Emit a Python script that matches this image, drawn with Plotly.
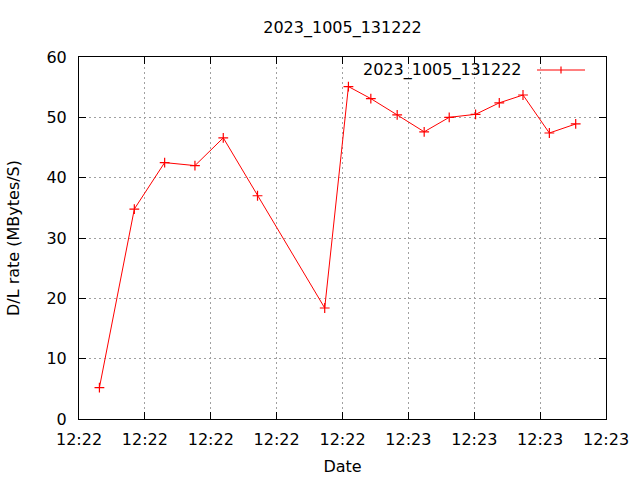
import plotly.graph_objects as go

series_name = "2023_1005_131222"
times = [
    "2023-10-05 12:22:13.1", "2023-10-05 12:22:18.4", "2023-10-05 12:22:23.0",
    "2023-10-05 12:22:27.6", "2023-10-05 12:22:31.9", "2023-10-05 12:22:37.1",
    "2023-10-05 12:22:47.3", "2023-10-05 12:22:50.9", "2023-10-05 12:22:54.3",
    "2023-10-05 12:22:58.3", "2023-10-05 12:23:02.4", "2023-10-05 12:23:06.2",
    "2023-10-05 12:23:10.2", "2023-10-05 12:23:13.8", "2023-10-05 12:23:17.4",
    "2023-10-05 12:23:21.4", "2023-10-05 12:23:25.4",
]
rates = [5.2, 34.8, 42.5, 42.0, 46.6, 37.0, 18.4, 55.1, 53.1, 50.4,
         47.6, 50.0, 50.5, 52.4, 53.7, 47.4, 48.9]
x_range = ["2023-10-05 12:22:10", "2023-10-05 12:23:30"]
y_range = [0, 60]

FONT = "DejaVu Sans"
RED = "#ff0000"

fig = go.Figure()
fig.add_trace(go.Scatter(
    x=times, y=rates, mode="lines+markers", name=series_name,
    line=dict(color=RED, width=1),
    marker=dict(symbol="cross-thin", size=7, line=dict(color=RED, width=1.2), color=RED),
    showlegend=False, hoverinfo="skip",
))

# gnuplot-style key: text then sample line with marker
L, R, T, B = 79, 34, 57, 61
W, H = 640 - L - R, 480 - T - B
def px(x):
    return (x - L) / W
def py(y):
    return (480 - B - y) / H

fig.add_annotation(x=px(524), y=py(70), xref="paper", yref="paper",
                   text=series_name, showarrow=False, xanchor="right", yanchor="middle",
                   font=dict(family=FONT, size=16, color="#000"))
fig.add_shape(type="line", xref="paper", yref="paper",
              x0=px(537), x1=px(585), y0=py(70), y1=py(70),
              line=dict(color=RED, width=1))
fig.add_shape(type="line", xref="paper", yref="paper",
              x0=px(561), x1=px(561), y0=py(66.5), y1=py(73.5),
              line=dict(color=RED, width=1.2))

axis_common = dict(
    showline=True, linecolor="#000", linewidth=1, mirror="ticks",
    ticks="inside", ticklen=7, tickcolor="#000", tickwidth=1,
    showgrid=True, gridcolor="#a0a0a0", gridwidth=1, griddash="2px,3px",
    zeroline=False, automargin=False,
    tickfont=dict(family=FONT, size=16, color="#000"),
    title_font=dict(family=FONT, size=16, color="#000"),
)

fig.update_layout(
    width=640, height=480,
    margin=dict(l=L, r=R, t=T, b=B, autoexpand=False),
    paper_bgcolor="#fff", plot_bgcolor="#fff",
    font=dict(family=FONT, size=16, color="#000"),
    title=dict(text=series_name, x=(L + W / 2) / 640, xanchor="center",
               y=1 - 27 / 480, yanchor="middle", automargin=False,
               font=dict(family=FONT, size=16, color="#000")),
    xaxis=dict(type="date", range=x_range, tick0=x_range[0], dtick=10000,
               tickformat="%H:%M", ticklabelstandoff=6,
               title=dict(text="Date", standoff=12), **axis_common),
    yaxis=dict(range=y_range, dtick=10, ticklabelstandoff=8,
               title=dict(text="D/L rate (MBytes/S)", standoff=22), **axis_common),
)

fig.write_html("out.html", config={"displayModeBar": False},
               post_script="document.body.style.margin='0';document.body.style.overflow='hidden';")
